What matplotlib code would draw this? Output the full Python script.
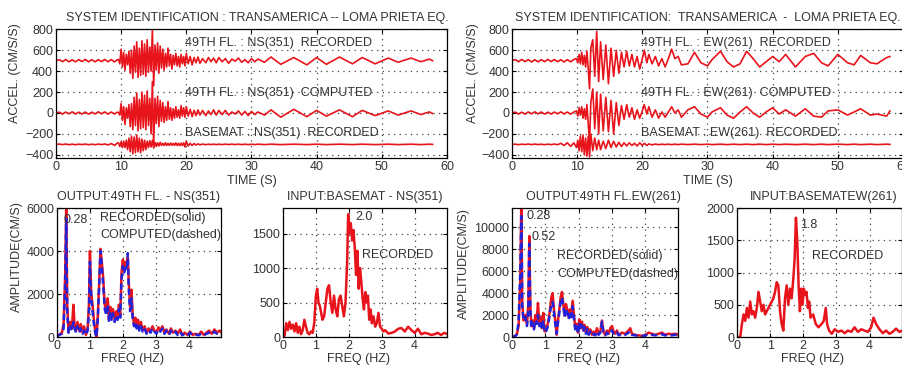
import numpy as np
import matplotlib.pyplot as plt

plt.rcParams['font.family'] = ['Liberation Sans', 'DejaVu Sans']
plt.rcParams['font.size'] = 9

RED = '#e8141c'
BLUE = '#2222dd'
TXT = '#333333'
FS = 9

# ---- time histories (relative to each trace's baseline) ----
NS_T = [0.0, 0.5, 1.0, 1.5, 2.0, 2.5, 3.0, 3.5, 4.0, 4.5, 5.0, 5.5, 6.0, 6.5, 7.0, 7.5, 8.0, 8.5, 9.0, 9.4,
        9.6, 9.8, 10.0, 10.2, 10.4, 10.6, 10.8, 11.0, 11.2, 11.4,
        11.6, 11.8, 12.0, 12.2, 12.4, 12.6, 12.8, 13.0, 13.2, 13.4,
        13.6, 13.8, 14.0, 14.2, 14.4, 14.6, 14.8, 15.0, 15.2, 15.4,
        15.6, 15.8, 16.0, 16.2, 16.4, 16.6, 16.8, 17.0, 17.2, 17.4,
        17.6, 17.8, 18.0, 18.2, 18.4, 18.6, 18.8, 19.0, 19.2, 19.4,
        19.6, 19.8, 20.0, 20.3, 20.6, 20.9, 21.2, 21.5, 21.8, 22.1,
        22.5, 23.0, 23.4, 23.8, 24.2, 24.6, 25.0, 25.5, 26.0, 26.5,
        27.0, 27.5, 28.0, 28.5, 29.0, 29.5, 30.0, 30.5, 31.0, 32.0,
        33.0, 34.5, 36.5, 38.5, 40.0, 41.5, 43.5, 45.5, 47.0, 49.0,
        51.0, 52.5, 54.5, 56.0, 57.3, 57.8]
NS_REC = [0, 10, -9, 11, -10, 8, -11, 10, -8, 12, -10, 9, -11, 10, -9, 12, -10, 11, -12, 9,
          10, -30, 110, -60, 80, -90, 60, -40, 90, -120,
          100, -170, 140, -110, 180, -160, 120, -140, 190, -130,
          160, -150, 200, -110, 130, -100, 300, -240, 150, -90,
          170, -120, 140, -70, 110, -90, 70, -60, 120, -50,
          60, -80, 50, -40, 70, -50, 40, -60, 60, -30,
          40, -50, 70, -30, 40, -40, 30, -20, 35, -25,
          20, -20, 30, -10, 25, -20, 30, -10, 20, -25,
          15, -5, 25, -15, 10, -20, 20, -10, 15, -15,
          35, -35, 30, -40, 30, -35, 35, -30, 30, -30,
          25, -15, 25, -10, 15, 0]
NS_COMP = [0, 8, -10, 9, -8, 11, -9, 8, -10, 9, -11, 8, -9, 11, -8, 10, -11, 9, -10, 8,
           5, -20, 90, -70, 60, -110, 50, -50, 80, -130,
           90, -160, 150, -120, 190, -170, 130, -150, 200, -140,
           170, -160, 210, -120, 140, -200, 300, -310, 140, -100,
           160, -130, 120, -80, 100, -90, 60, -70, 110, -60,
           50, -70, 40, -50, 60, -40, 30, -50, 70, -30,
           50, -40, 60, -30, 35, -35, 25, -25, 30, -20,
           25, -25, 20, -15, 30, -20, 25, -15, 25, -20,
           10, -10, 20, -20, 15, -25, 15, -15, 10, -20,
           30, -40, 35, -35, 25, -30, 30, -35, 25, -25,
           20, -20, 20, -15, 10, -5]
NS_BASE = [0, 3, -2, 3, -3, 2, -3, 2, -2, 3, -3, 2, -3, 3, -2, 4, -5, 8, -10, 12,
           15, -20, 25, -30, 30, -30, 40, -50, 60, -70,
           80, -90, 70, -80, 90, -70, 60, -80, 50, -60,
           40, -50, 30, -30, 35, -25, 40, -35, 20, -20,
           15, -15, 20, -10, 10, -10, 15, -10, 10, -10,
           12, -8, 10, -10, 15, -10, 10, -12, 12, -10,
           15, -25, 30, -15, 10, -10, 8, -6, 5, -4,
           3, -3, 2, -2, 2, -2, 2, -2, 2, -2,
           2, -2, 2, -2, 2, -2, 2, -2, 2, -2,
           2, -2, 2, -2, 2, -2, 2, -2, 2, -2,
           2, -2, 2, -2, 2, 0]

EW_T = [0.0, 0.5, 1.0, 1.5, 2.0, 2.5, 3.0, 3.5, 4.0, 4.5, 5.0, 5.5, 6.0, 6.5, 7.0, 7.5, 8.0, 8.5, 9.0, 9.5,
        9.9, 10.1, 10.3, 10.5, 10.7, 10.9, 11.1, 11.3, 11.5, 11.7,
        11.9, 12.1, 12.4, 12.7, 13.0, 13.3, 13.6, 14.0, 14.4, 14.8,
        15.2, 15.6, 16.0, 16.4, 16.8, 17.2, 17.6, 18.0, 18.4, 18.8,
        19.2, 19.6, 20.0, 20.3, 20.7, 21.0, 21.5, 22.0, 22.5, 23.0,
        23.5, 24.0, 24.5, 25.0, 25.5, 26.0, 27.0, 28.0, 29.0, 30.0,
        30.7, 32.0, 33.0, 34.0, 35.0, 36.0, 37.0, 38.0, 39.0, 40.0,
        41.0, 42.0, 43.5, 45.0, 46.3, 47.5, 48.5, 50.0, 51.5, 52.5,
        53.5, 55.0, 56.0, 57.5, 58.0]
EW_REC = [0, 11, -10, 12, -9, 10, -12, 9, -11, 10, -10, 12, -9, 11, -10, 9, -12, 10, -11, 12,
          20, -20, 60, -30, 80, -40, 50, -60, 90, -80,
          -270, 120, 200, -150, 280, -200, 180, -180, 150, -220,
          120, -150, 100, -120, 80, -60, 90, -50, 60, -60,
          40, -80, 20, 100, -20, 60, -30, 40, -50, 20,
          -60, 20, 110, 20, 40, -40, -30, 80, -20, -50,
          10, 90, -10, -60, -30, 90, 20, -60, -10, 40,
          -10, 60, -60, 40, 70, -20, -50, 60, -20, -40,
          50, -20, -30, 30, 40]
EW_COMP = [0, 9, -10, 8, -11, 10, -8, 11, -9, 10, -11, 8, -10, 9, -8, 11, -10, 9, -11, 10,
           20, -30, 50, -20, 60, -50, 40, -60, 80, -100,
           -290, 100, 230, -150, 200, -200, 180, -170, 150, -180,
           120, -200, 100, -120, 70, -60, 80, -40, 50, -60,
           30, -50, 20, 80, -10, 60, -40, 30, -50, 10,
           -40, 10, 60, 0, 30, -40, 30, 60, -10, -40,
           10, 50, -20, -50, 10, 60, 0, -40, 10, 50,
           -10, 30, -30, 40, -30, -40, 20, 30, -20, 10,
           40, -20, -10, -30, 20]
EW_BASE = [0, 2, -3, 2, -2, 3, -2, 3, -2, 2, -3, 2, -2, 3, -3, 10, -10, 15, -20, 15,
           -30, 40, -60, 80, -70, 90, -100, 60, -110, 80,
           -120, 100, -60, 60, -50, 40, -50, 30, -40, 40,
           -30, 30, -25, 20, -20, 15, -15, 15, -10, 10,
           -15, 15, -10, 10, -10, 5, -5, 3, -3, 2,
           -2, 2, -2, 2, -2, 2, -2, 2, -2, 2,
           -2, 2, -2, 2, -2, 2, -2, 2, -2, 2,
           -2, 2, -2, 2, -2, 2, -2, 2, -2, 2,
           -2, 2, -2, 2, 0]

OFFSETS = [500, 0, -300]

# ---- Fourier amplitude spectra ----
NS_OUT_F = [0.00, 0.05, 0.10, 0.15, 0.20, 0.25, 0.28, 0.31, 0.35, 0.40,
            0.45, 0.50, 0.53, 0.58, 0.62, 0.68, 0.72, 0.78, 0.82, 0.88,
            0.93, 0.97, 1.00, 1.04, 1.08, 1.12, 1.16, 1.20, 1.24, 1.28,
            1.32, 1.36, 1.40, 1.45, 1.50, 1.54, 1.58, 1.62, 1.66, 1.70,
            1.75, 1.80, 1.84, 1.88, 1.92, 1.96, 2.00, 2.04, 2.08, 2.12,
            2.15, 2.18, 2.22, 2.26, 2.30, 2.34, 2.38, 2.42, 2.46, 2.50,
            2.55, 2.60, 2.66, 2.72, 2.78, 2.84, 2.90, 2.96, 3.02, 3.08,
            3.14, 3.20, 3.26, 3.32, 3.40, 3.46, 3.52, 3.60, 3.66, 3.74,
            3.80, 3.88, 3.96, 4.04, 4.12, 4.20, 4.30, 4.38, 4.46, 4.54,
            4.62, 4.70, 4.78, 4.86, 4.94, 5.00]
NS_OUT_REC = [0, 100, 150, 200, 600, 3000, 6200, 1500, 300, 700,
              400, 1500, 600, 300, 700, 300, 600, 200, 500, 100,
              400, 1500, 4000, 2000, 1500, 800, 300, 0, 1000, 2500,
              4100, 3500, 2800, 1500, 1200, 1800, 800, 1400, 900, 1300,
              800, 1200, 900, 1500, 1000, 3000, 3600, 3100, 3500, 3400,
              3700, 2500, 1400, 2200, 1000, 600, 900, 500, 800, 400,
              700, 300, 500, 200, 400, 250, 500, 300, 200, 450,
              300, 500, 200, 350, 150, 400, 200, 300, 150, 350,
              100, 200, 100, 250, 100, 150, 100, 250, 100, 200,
              300, 150, 350, 200, 300, 200]
NS_OUT_COMP = [0, 80, 120, 150, 400, 2500, 5500, 1200, 200, 500,
               300, 700, 400, 200, 500, 200, 400, 150, 300, 100,
               300, 1200, 3500, 1800, 1200, 600, 200, 0, 900, 2300,
               4000, 3300, 2500, 1300, 1000, 1500, 700, 1200, 800, 1100,
               700, 1000, 800, 1300, 900, 2700, 3300, 3000, 3200, 3100,
               3900, 2200, 1200, 1800, 800, 500, 700, 400, 600, 300,
               500, 250, 400, 150, 300, 200, 400, 250, 150, 350,
               250, 400, 150, 300, 100, 300, 150, 250, 100, 250,
               80, 150, 80, 200, 80, 120, 80, 150, 80, 150,
               200, 120, 250, 150, 200, 150]

NS_IN_F = [0.00, 0.05, 0.10, 0.15, 0.20, 0.25, 0.30, 0.35, 0.40, 0.45,
           0.50, 0.55, 0.60, 0.65, 0.70, 0.75, 0.80, 0.85, 0.90, 0.95,
           1.00, 1.04, 1.08, 1.12, 1.16, 1.20, 1.25, 1.30, 1.35, 1.40,
           1.45, 1.50, 1.55, 1.60, 1.65, 1.70, 1.75, 1.80, 1.85, 1.90,
           1.95, 1.98, 2.02, 2.06, 2.10, 2.14, 2.18, 2.22, 2.26, 2.30,
           2.34, 2.38, 2.42, 2.46, 2.50, 2.54, 2.58, 2.62, 2.66, 2.70,
           2.75, 2.80, 2.85, 2.90, 2.95, 3.00, 3.05, 3.10, 3.20, 3.30,
           3.40, 3.50, 3.60, 3.70, 3.80, 3.90, 4.00, 4.10, 4.20, 4.30,
           4.40, 4.50, 4.60, 4.70, 4.80, 4.90, 5.00]
NS_IN_REC = [0, 20, 200, 100, 220, 120, 180, 80, 200, 60,
             150, 40, 100, 250, 150, 60, 40, 80, 60, 200,
             600, 700, 500, 450, 350, 250, 300, 500, 700, 750,
             500, 350, 600, 400, 300, 550, 600, 450, 300, 500,
             1100, 1780, 1500, 1650, 1400, 1550, 1300, 900, 1250, 700,
             1000, 800, 550, 400, 650, 500, 600, 250, 400, 200,
             300, 150, 200, 350, 150, 120, 80, 100, 50, 60,
             80, 120, 130, 80, 150, 100, 60, 120, 40, 60,
             50, 30, 40, 60, 30, 60, 40]

EW_OUT_F = [0.00, 0.05, 0.10, 0.15, 0.20, 0.25, 0.28, 0.31, 0.35, 0.40,
            0.45, 0.49, 0.52, 0.55, 0.58, 0.62, 0.66, 0.70, 0.74, 0.78,
            0.82, 0.86, 0.90, 0.94, 0.98, 1.02, 1.06, 1.10, 1.14, 1.18,
            1.22, 1.26, 1.30, 1.34, 1.38, 1.42, 1.46, 1.50, 1.54, 1.58,
            1.62, 1.66, 1.70, 1.74, 1.78, 1.82, 1.86, 1.90, 1.94, 1.98,
            2.02, 2.06, 2.10, 2.14, 2.18, 2.22, 2.26, 2.30, 2.35, 2.40,
            2.45, 2.50, 2.55, 2.60, 2.65, 2.70, 2.75, 2.80, 2.85, 2.90,
            2.95, 3.00, 3.05, 3.10, 3.15, 3.20, 3.30, 3.40, 3.50, 3.55,
            3.60, 3.70, 3.80, 3.90, 4.00, 4.10, 4.20, 4.30, 4.40, 4.50,
            4.60, 4.70, 4.80, 4.90, 5.00]
EW_OUT_REC = [0, 50, 100, 300, 1000, 5000, 12500, 3000, 1500, 2000,
              1200, 3000, 9200, 3000, 1000, 1500, 800, 2000, 1500, 3100,
              1200, 1800, 800, 2200, 500, 600, 1000, 1600, 2500, 3600,
              4000, 2500, 1500, 200, 1500, 2500, 3600, 4100, 3000, 2000,
              3000, 2500, 1800, 2500, 2000, 3300, 2000, 800, 1200, 400,
              1600, 800, 1400, 600, 1100, 400, 900, 300, 700, 200,
              500, 200, 800, 300, 500, 1500, 400, 200, 600, 300,
              800, 1000, 500, 300, 600, 200, 400, 300, 600, 800,
              300, 200, 150, 100, 200, 400, 300, 200, 300, 400,
              200, 300, 250, 300, 200]
EW_OUT_COMP = [0, 40, 80, 250, 1500, 6000, 11000, 2500, 1500, 1800,
               1000, 2500, 8500, 2500, 800, 1300, 700, 1500, 1200, 2000,
               1000, 1500, 700, 1500, 400, 500, 800, 1400, 2200, 3000,
               3200, 2200, 1200, 300, 1300, 2200, 3200, 3600, 2800, 1800,
               2600, 2200, 1600, 2200, 1800, 2800, 1700, 600, 1000, 300,
               1300, 600, 1100, 500, 900, 300, 700, 200, 500, 150,
               300, 150, 500, 200, 400, 1400, 300, 150, 400, 200,
               500, 600, 300, 200, 400, 150, 300, 200, 400, 500,
               200, 150, 100, 80, 150, 250, 200, 150, 200, 250,
               150, 200, 150, 200, 150]

EW_IN_F = [0.00, 0.10, 0.15, 0.20, 0.25, 0.30, 0.35, 0.40, 0.45, 0.50,
           0.55, 0.60, 0.65, 0.70, 0.75, 0.80, 0.85, 0.90, 0.95, 1.00,
           1.05, 1.10, 1.15, 1.20, 1.25, 1.30, 1.35, 1.40, 1.45, 1.50,
           1.55, 1.60, 1.65, 1.70, 1.74, 1.78, 1.82, 1.86, 1.90, 1.94,
           1.98, 2.02, 2.06, 2.10, 2.14, 2.18, 2.22, 2.30, 2.38, 2.46,
           2.55, 2.62, 2.68, 2.72, 2.78, 2.86, 2.95, 3.05, 3.15, 3.25,
           3.35, 3.45, 3.55, 3.65, 3.75, 3.85, 3.95, 4.05, 4.12, 4.20,
           4.30, 4.40, 4.50, 4.60, 4.70, 4.80, 4.90, 5.00]
EW_IN_REC = [0, 0, 200, 350, 250, 450, 300, 550, 350, 400,
             300, 450, 700, 550, 400, 500, 350, 400, 450, 500,
             550, 600, 700, 850, 800, 400, 200, 100, 600, 800,
             500, 750, 600, 900, 1200, 1850, 1500, 800, 400, 750,
             500, 750, 650, 700, 450, 550, 300, 350, 200, 150,
             200, 250, 450, 200, 100, 50, 120, 80, 100, 60,
             100, 80, 150, 80, 120, 100, 80, 150, 300, 200,
             120, 60, 100, 50, 80, 130, 80, 100]


def style(ax):
    ax.grid(True, color='#444444', linestyle=(0, (1, 3.5)), linewidth=0.9)
    ax.tick_params(direction='in', length=3, top=True, right=True,
                   colors='black', labelcolor=TXT, labelsize=FS, pad=2)
    for s in ax.spines.values():
        s.set_linewidth(0.9)


fig = plt.figure(figsize=(9.02, 3.67), dpi=100)

# ---- top: time histories ----
top = [
    (0.062, NS_T, [NS_REC, NS_COMP, NS_BASE],
     'SYSTEM IDENTIFICATION : TRANSAMERICA -- LOMA PRIETA EQ.', 0.514, 'center',
     ['49TH FL. : NS(351)  RECORDED', '49TH FL. : NS(351)  COMPUTED', 'BASEMAT : NS(351)  RECORDED'], -0.09),
    (0.5676, EW_T, [EW_REC, EW_COMP, EW_BASE],
     'SYSTEM IDENTIFICATION:  TRANSAMERICA  -  LOMA PRIETA EQ.', 0.995, 'right',
     ['49TH FL. : EW(261)  RECORDED', '49TH FL. : EW(261)  COMPUTED', 'BASEMAT : EW(261)  RECORDED'], -0.085),
]
for left, t, traces, title, ttx, tha, labels, ylx in top:
    ax = fig.add_axes([left, 0.5695, 0.4335, 0.3507])
    for vals, off in zip(traces, OFFSETS):
        ax.plot(t, np.array(vals) + off, color=RED, lw=1.2)
    for lab, ly in zip(labels, [670, 190, -190]):
        ax.text(19.8, ly, lab, color=TXT, fontsize=FS, va='center', ha='left')
    ax.set_xlim(0, 60)
    ax.set_ylim(-430, 800)
    ax.set_xticks(range(0, 61, 10))
    ax.set_yticks(range(-400, 801, 200))
    style(ax)
    ax.text(ttx, 1.085, title, transform=ax.transAxes, ha=tha, va='center',
            color=TXT, fontsize=FS)
    ax.set_ylabel('ACCEL. (CM/S/S)', color=TXT, fontsize=FS)
    ax.yaxis.set_label_coords(ylx, 0.66)
    ax.set_xlabel('TIME (S)', color=TXT, fontsize=FS)
    ax.xaxis.set_label_coords(0.5, -0.13)

# ---- bottom: spectra ----
bottom = [
    (0.0632, 0.1818, NS_OUT_F, NS_OUT_REC, NS_OUT_COMP, 6000, [0, 2000, 4000, 6000],
     'OUTPUT:49TH FL. - NS(351)', 0.5, -0.207, 0.624),
    (0.3137, 0.1818, NS_IN_F, NS_IN_REC, None, 1870, [0, 500, 1000, 1500],
     'INPUT:BASEMAT - NS(351)', 0.5, None, None),
    (0.5676, 0.1840, EW_OUT_F, EW_OUT_REC, EW_OUT_COMP, 11750, [0, 2000, 4000, 6000, 8000, 10000],
     'OUTPUT:49TH FL.EW(261)', 0.55, -0.253, 0.573),
    (0.8170, 0.1830, EW_IN_F, EW_IN_REC, None, 2000, [0, 500, 1000, 1500, 2000],
     'INPUT:BASEMATEW(261)', 0.525, None, None),
]
axes_b = []
for left, w, f, rec, comp, ymax, yt, title, tx, ylx, yly in bottom:
    ax = fig.add_axes([left, 0.0817, w, 0.3515])
    ax.plot(f, rec, color=RED, lw=1.8)
    if comp is not None:
        ax.plot(f, comp, color=BLUE, lw=1.8, dashes=(2.5, 1.5))
    ax.set_xlim(0, 4.98)
    ax.set_ylim(0, ymax)
    ax.set_xticks([0, 1, 2, 3, 4])
    ax.set_yticks(yt)
    style(ax)
    ax.text(tx, 1.085, title, transform=ax.transAxes, ha='center', va='center',
            color=TXT, fontsize=FS)
    ax.set_xlabel('FREQ (HZ)', color=TXT, fontsize=FS)
    ax.xaxis.set_label_coords(0.46, -0.125)
    if ylx is not None:
        ax.set_ylabel('AMPLITUDE(CM/S)', color=TXT, fontsize=FS)
        ax.yaxis.set_label_coords(ylx, yly)
    axes_b.append(ax)

kw = dict(color=TXT, fontsize=FS, va='center', ha='left')
axes_b[0].text(0.2, 5450, '0.28', **kw)
axes_b[0].text(1.32, 5530, 'RECORDED(solid)', **kw)
axes_b[0].text(1.32, 4760, 'COMPUTED(dashed)', **kw)
axes_b[1].text(2.2, 1737, '2.0', **kw)
axes_b[1].text(2.4, 1184, 'RECORDED', **kw)
axes_b[2].text(0.43, 11050, '0.28', **kw)
axes_b[2].text(0.6, 9100, '0.52', **kw)
axes_b[2].text(1.35, 7380, 'RECORDED(solid)', **kw)
axes_b[2].text(1.35, 5780, 'COMPUTED(dashed)', **kw)
axes_b[3].text(1.9, 1742, '1.8', **kw)
axes_b[3].text(2.25, 1250, 'RECORDED', **kw)

fig.savefig('out.png', dpi=100)
